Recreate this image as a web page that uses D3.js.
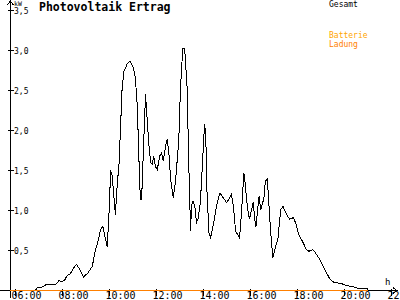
<!DOCTYPE html>
<html>
<head>
<meta charset="utf-8">
<script src="https://cdn.jsdelivr.net/npm/d3@7"></script>
<style>
  html, body { margin: 0; padding: 0; background: #fff; }
  svg { display: block; }
  text { font-family: "DejaVu Sans Mono", monospace; }
</style>
</head>
<body>
<div id="chart"></div>
<script>
;(function (window, document, undefined) {

  'use strict';

  // Gesamt (kW) over the day
  var times = [
    '06:50', '06:55', '07:08', '07:17', '07:42', '07:51', '07:57', '08:05', '08:12', '08:20',
    '08:31', '08:36', '08:42', '08:54', '09:05', '09:16', '09:24', '09:30', '09:37', '09:43',
    '09:54', '09:58', '10:03', '10:07', '10:15', '10:20', '10:24', '10:28', '10:32', '10:37',
    '10:45', '10:52', '11:01', '11:06', '11:11', '11:17', '11:19', '11:22', '11:26', '11:32',
    '11:34', '11:40', '11:45', '11:49', '11:53', '11:57', '12:02', '12:08', '12:13', '12:17',
    '12:23', '12:27', '12:31', '12:36', '12:43', '12:49', '12:57', '13:01', '13:07', '13:12',
    '13:18', '13:23', '13:27', '13:29', '13:31', '13:33', '13:38', '13:42', '13:46', '13:52',
    '13:57', '14:01', '14:03', '14:06', '14:09', '14:14', '14:18', '14:26', '14:35', '14:42',
    '14:50', '14:59', '15:05', '15:11', '15:16', '15:22', '15:32', '15:37', '15:43', '15:46',
    '15:52', '15:57', '16:03', '16:07', '16:11', '16:14', '16:19', '16:22', '16:26', '16:31',
    '16:34', '16:38', '16:43', '16:51', '16:57', '17:04', '17:10', '17:17', '17:23', '17:32',
    '17:40', '17:49', '17:55', '18:03', '18:12', '18:23', '18:29', '18:38', '18:43', '18:54',
    '19:03', '19:12', '19:22', '19:33', '19:50', '20:07', '20:20', '20:32', '20:59', '21:01'
  ];
  var gesamt = [
    0.00, 0.03, 0.045, 0.07, 0.07, 0.125, 0.11, 0.125, 0.19, 0.21,
    0.30, 0.325, 0.28, 0.17, 0.22, 0.30, 0.51, 0.60, 0.76, 0.80,
    0.55, 0.87, 1.50, 1.43, 0.95, 1.35, 1.55, 2.01, 2.51, 2.74,
    2.83, 2.87, 2.78, 2.66, 2.30, 1.35, 1.14, 1.14, 1.68, 2.45,
    2.30, 1.85, 1.60, 1.58, 1.68, 1.55, 1.51, 1.68, 1.72, 1.62,
    1.80, 1.89, 1.76, 1.39, 1.16, 1.39, 1.89, 2.51, 3.02, 3.02,
    2.55, 1.47, 0.74, 1.01, 1.10, 1.12, 1.05, 0.85, 0.89, 1.10,
    1.55, 1.93, 2.08, 1.89, 1.22, 0.72, 0.66, 0.85, 1.10, 1.22,
    1.16, 1.10, 1.14, 1.20, 1.07, 0.74, 0.66, 0.97, 1.47, 1.35,
    1.05, 0.89, 1.01, 1.10, 0.89, 0.80, 1.05, 1.18, 1.01, 1.10,
    1.14, 1.37, 1.39, 0.76, 0.41, 0.55, 0.64, 1.01, 1.05, 0.95,
    0.89, 0.91, 0.85, 0.70, 0.62, 0.51, 0.49, 0.51, 0.49, 0.41,
    0.33, 0.24, 0.15, 0.10, 0.09, 0.06, 0.05, 0.03, 0.02, 0.00
  ];

  // Batterie Ladung (kW), flat zero
  var ladungTimes = ['05:47', '21:01'];
  var ladung = [0, 0];

  var xTicks = [6, 8, 10, 12, 14, 16, 18, 20, 22];
  var xTickLabels = ['06:00', '08:00', '10:00', '12:00', '14:00', '16:00', '18:00', '20:00', '22:'];
  var yTicks = [0.5, 1.0, 1.5, 2.0, 2.5, 3.0, 3.5];
  var yTickLabels = ['0,5', '1,0', '1,5', '2,0', '2,5', '3,0', '3,5'];

  var toHours = function (s) {
    var p = s.split(':');
    return +p[0] + (+p[1]) / 60;
  };

  var width = 400, height = 300;
  var axisX = 10.5;

  var x = d3.scaleLinear().domain([6, 22]).range([15.5, 391.5]);
  var y = d3.scaleLinear().domain([0, 3.5]).range([290.5, 10.5]);

  var svg = d3.select('#chart').append('svg')
              .attr('width', width)
              .attr('height', height);

  // y axis with arrow
  svg.append('line')
    .attr('x1', axisX).attr('x2', axisX)
    .attr('y1', 1).attr('y2', 298)
    .attr('stroke', '#000')
    .attr('shape-rendering', 'crispEdges');
  svg.append('path')
    .attr('d', 'M' + (axisX - 3) + ',5 L' + axisX + ',1 L' + (axisX + 3) + ',5')
    .attr('fill', 'none')
    .attr('stroke', '#000')
    .attr('shape-rendering', 'crispEdges');

  svg.selectAll('.ytick').data(yTicks).enter().append('line')
    .attr('class', 'ytick')
    .attr('x1', axisX - 3).attr('x2', axisX + 3)
    .attr('y1', function (d) { return y(d); })
    .attr('y2', function (d) { return y(d); })
    .attr('stroke', '#000')
    .attr('shape-rendering', 'crispEdges');

  svg.selectAll('.ylabel').data(yTicks).enter().append('text')
    .attr('class', 'ylabel')
    .attr('x', 14)
    .attr('y', function (d) { return y(d) + 3.5; })
    .style('font-size', '8px')
    .text(function (d, i) { return yTickLabels[i]; });

  svg.append('text')
    .attr('x', 14).attr('y', 6)
    .style('font-size', '6.5px')
    .text('kW');

  // x axis with arrow
  svg.append('line')
    .attr('x1', 0).attr('x2', 397)
    .attr('y1', y(0)).attr('y2', y(0))
    .attr('stroke', '#000')
    .attr('shape-rendering', 'crispEdges');
  svg.append('path')
    .attr('d', 'M393,' + (y(0) - 3) + ' L397,' + y(0) + ' L393,' + (y(0) + 3))
    .attr('fill', 'none')
    .attr('stroke', '#000')
    .attr('shape-rendering', 'crispEdges');

  svg.selectAll('.xtick').data(xTicks).enter().append('line')
    .attr('class', 'xtick')
    .attr('x1', function (d) { return x(d); })
    .attr('x2', function (d) { return x(d); })
    .attr('y1', y(0) - 2).attr('y2', y(0) + 5)
    .attr('stroke', '#000')
    .attr('shape-rendering', 'crispEdges');

  svg.selectAll('.xlabel').data(xTicks).enter().append('text')
    .attr('class', 'xlabel')
    .attr('x', function (d) { return x(d) - 4; })
    .attr('y', 299)
    .style('font-size', '10px')
    .text(function (d, i) { return xTickLabels[i]; });

  svg.append('text')
    .attr('x', 385).attr('y', 285)
    .style('font-size', '9px')
    .text('h');

  var line = d3.line()
    .x(function (d) { return x(d[0]); })
    .y(function (d) { return y(d[1]); });

  svg.append('path')
    .datum(times.map(function (t, i) { return [toHours(t), gesamt[i]]; }))
    .attr('d', line)
    .attr('fill', 'none')
    .attr('stroke', '#000')
    .attr('stroke-width', 1)
    .attr('shape-rendering', 'crispEdges');

  svg.append('path')
    .datum(ladungTimes.map(function (t, i) { return [toHours(t), ladung[i]]; }))
    .attr('d', line)
    .attr('fill', 'none')
    .attr('stroke', '#ff8000')
    .attr('stroke-width', 1)
    .attr('shape-rendering', 'crispEdges');

  // title and legend
  svg.append('text')
    .attr('x', 39).attr('y', 11)
    .style('font-size', '11.5px')
    .style('font-weight', 'bold')
    .text('Photovoltaik Ertrag');

  svg.append('text')
    .attr('x', 329).attr('y', 7)
    .style('font-size', '8px')
    .attr('fill', '#000')
    .text('Gesamt');

  svg.append('text')
    .attr('x', 329).attr('y', 37.5)
    .style('font-size', '8px')
    .attr('fill', '#ffa500')
    .text('Batterie');

  svg.append('text')
    .attr('x', 329).attr('y', 46.5)
    .style('font-size', '8px')
    .attr('fill', '#ff8000')
    .text('Ladung');

})(window, document);
</script>
</body>
</html>
